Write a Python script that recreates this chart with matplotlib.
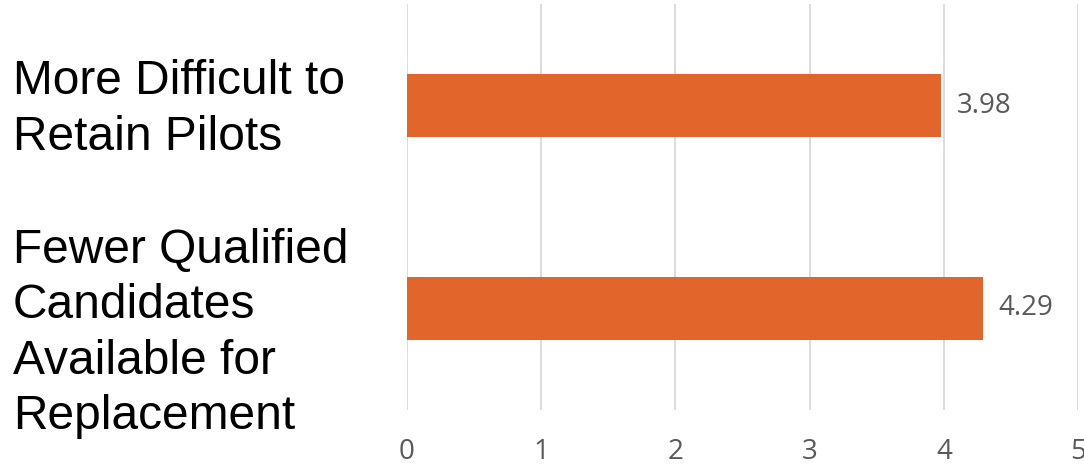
import matplotlib.pyplot as plt
from matplotlib.transforms import blended_transform_factory, offset_copy

# data
categories = ["More Difficult to\nRetain Pilots",
              "Fewer Qualified\nCandidates\nAvailable for\nReplacement"]
values = [3.98, 4.29]
label_shift_pt = [-3, -18]   # vertical nudge of the category text, points
xticks = [0, 1, 2, 3, 4, 5]

bar_color = "#E2662B"
grid_color = "#D9D9D9"
tick_color = "#595959"

fig = plt.figure(figsize=(10.84, 4.66), dpi=100)
ax = fig.add_axes([0.3755, 0.1202, 0.619, 0.8712])

ypos = list(range(len(categories)))
ax.barh(ypos, values, height=0.315, color=bar_color, zorder=3)

ax.set_xlim(0, 5)
ax.set_ylim(len(categories) - 0.5, -0.5)
ax.set_xticks(xticks)
ax.set_xticklabels([str(t) for t in xticks], fontsize=20,
                   family="Open Sans", color=tick_color)
ax.tick_params(axis="x", length=0, pad=20)
ax.set_yticks([])
ax.grid(axis="x", color=grid_color, linewidth=1.3, zorder=0)
for s in ax.spines.values():
    s.set_visible(False)

# value labels
for y, v in zip(ypos, values):
    ax.annotate(f"{v:.2f}", xy=(v, y), xytext=(11, 0), textcoords="offset points",
                va="center", ha="left", fontsize=20, family="Open Sans",
                color=tick_color)

# category labels, left aligned at the figure edge
trans = blended_transform_factory(fig.transFigure, ax.transData)
for y, lab, dy in zip(ypos, categories, label_shift_pt):
    t = offset_copy(trans, fig=fig, x=0, y=dy, units="points")
    ax.text(0.012, y, lab, transform=t, ha="left", va="center",
            fontsize=34.5, family="Liberation Sans", color="black",
            linespacing=1.3)

fig.savefig("out.png", dpi=100)
